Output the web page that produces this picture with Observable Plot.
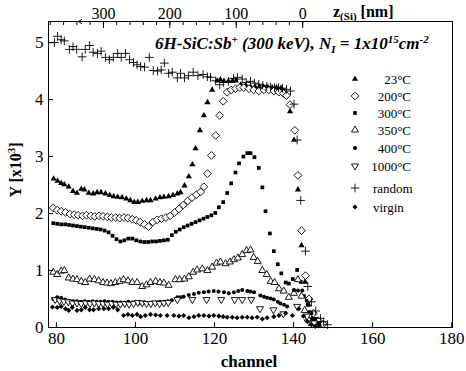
<!DOCTYPE html>
<html><head><meta charset="utf-8">
<script src="https://cdn.jsdelivr.net/npm/d3@7"></script>
<script src="https://cdn.jsdelivr.net/npm/@observablehq/plot@0.6"></script>
<style>body{margin:0;background:#fff} svg{display:block}</style>
</head><body><div id="chart"></div>
<script>
// ---- data (channel, Y in units of 10^3) ----
const chRandom = [79.5,80.3,81.2,82.0,83.3,84.2,85.1,86.5,87.3,88.4,89.3,90.4,91.3,92.4,93.4,94.4,95.5,96.4,97.5,98.5,99.5,100.4,101.3,102.3,103.5,104.5,105.6,106.5,107.3,108.4,109.3,110.6,111.4,112.4,113.4,114.6,115.8,117.1,118.2,119.0,120.3,121.3,122.3,123.5,124.8,125.8,127.0,128.0,129.1,130.1,131.2,132.2,133.2,134.2,135.2,136.2,137.2,138.2,139.2,140.1,140.9,141.8,143.0,143.6,144.5,145.6,146.8,147.6,148.6];
const yRandom = [5.00,5.11,5.05,5.03,4.88,4.93,4.88,4.75,4.88,4.95,4.83,4.81,4.85,4.74,4.70,4.74,4.81,4.74,4.81,4.70,4.65,4.61,4.58,4.57,4.74,4.51,4.50,4.52,4.64,4.46,4.48,4.38,4.46,4.38,4.42,4.48,4.42,4.44,4.40,4.39,4.33,4.26,4.30,4.32,4.37,4.39,4.36,4.30,4.32,4.29,4.27,4.25,4.23,4.22,4.21,4.21,4.20,4.18,4.15,3.92,3.29,2.23,1.34,0.72,0.45,0.29,0.16,0.10,0.05];

const ch23 = [79.3,80.3,81.2,82.0,83.1,84.2,85.2,86.3,87.1,88.2,89.3,90.3,91.3,92.4,93.5,94.5,95.5,96.6,97.7,98.7,99.7,100.6,101.7,102.8,103.8,105.1,106.2,107.2,108.4,109.5,110.6,111.4,112.4,113.5,114.4,115.2,116.3,117.3,118.2,119.4,120.7,121.5,122.4,123.5,124.5,125.4,126.6,127.9,129.1,130.2,131.3,132.4,133.5,134.6,135.7,136.8,137.5,139.1,140.1,141.1,142.0,142.9,143.8,144.8,145.8];
const y23 = [2.61,2.57,2.53,2.51,2.47,2.39,2.36,2.43,2.42,2.36,2.35,2.37,2.37,2.35,2.32,2.30,2.29,2.28,2.26,2.23,2.20,2.20,2.22,2.23,2.23,2.26,2.28,2.29,2.30,2.32,2.35,2.37,2.49,2.65,2.86,3.14,3.46,3.72,3.95,4.17,4.33,4.35,4.32,4.32,4.32,4.33,4.26,4.25,4.23,4.23,4.22,4.22,4.22,4.21,4.21,4.20,4.15,3.79,3.29,2.42,1.44,0.80,0.40,0.18,0.08];

const ch200 = [79.2,80.2,81.2,82.3,83.4,84.5,85.5,86.6,87.6,88.7,89.7,90.8,91.8,92.9,93.9,95.0,96.0,97.1,98.1,99.2,100.2,101.2,102.3,103.3,104.4,105.5,106.6,107.7,108.8,109.9,111.0,112.1,113.2,114.3,115.4,116.5,117.3,118.2,119.2,120.3,121.3,122.2,123.2,124.2,125.3,126.4,127.4,128.7,129.9,131.2,132.5,133.7,135.0,136.3,137.4,138.2,139.1,140.3,141.1,142.0,143.0,143.9,145.0,146.2,147.5];
const y200 = [2.10,2.06,2.04,2.02,1.99,1.98,1.97,1.96,1.97,1.96,1.95,1.96,1.95,1.94,1.93,1.93,1.92,1.93,1.92,1.90,1.88,1.85,1.81,1.77,1.85,1.89,1.91,1.93,1.96,2.02,2.08,2.15,2.22,2.28,2.33,2.38,2.47,2.70,3.02,3.37,3.72,3.97,4.13,4.17,4.19,4.21,4.21,4.19,4.17,4.15,4.17,4.17,4.15,4.13,4.11,4.07,3.91,3.46,2.67,1.70,0.91,0.50,0.25,0.12,0.06];

const ch300 = [79.2,80.2,81.2,82.2,83.2,84.2,85.2,86.2,87.2,88.2,89.2,90.2,91.2,92.2,93.2,94.2,95.2,96.2,97.2,98.2,99.2,100.2,101.2,102.2,103.2,104.2,105.2,106.2,107.2,108.2,109.2,110.2,111.2,112.2,113.2,114.2,115.2,116.2,117.2,118.2,119.2,120.2,121.1,122.2,123.2,124.2,125.3,126.2,127.3,128.3,129.1,130.1,131.2,132.1,132.9,134.0,135.0,136.0,136.9,138.0,138.8,139.8,140.9,141.8,142.6,143.6,144.5,145.5,146.5];
const y300 = [1.83,1.82,1.81,1.81,1.80,1.79,1.78,1.77,1.76,1.75,1.74,1.73,1.72,1.70,1.67,1.61,1.55,1.51,1.53,1.56,1.56,1.53,1.51,1.50,1.50,1.51,1.51,1.52,1.53,1.54,1.62,1.68,1.72,1.76,1.79,1.82,1.85,1.88,1.91,1.94,1.97,2.01,2.11,2.20,2.36,2.53,2.72,2.88,3.00,3.06,3.06,2.99,2.80,2.46,2.04,1.65,1.34,1.11,0.95,0.79,0.77,0.85,1.01,0.80,0.55,0.40,0.25,0.15,0.08];

const ch350 = [79.2,80.2,81.2,82.0,83.1,84.2,85.2,86.3,87.3,88.4,89.6,90.7,91.8,92.8,93.8,94.9,96.0,97.0,98.1,99.2,100.4,101.7,102.8,103.8,105.1,106.2,107.2,108.4,110.1,111.2,112.4,113.5,114.6,115.6,116.9,118.2,119.4,120.5,121.5,122.8,123.9,124.9,125.9,127.0,128.1,129.1,129.9,130.9,132.1,133.2,134.2,135.2,136.3,137.5,138.8,140.1,141.1,142.0,142.8,143.6,144.6];
const y350 = [0.97,0.93,0.99,1.00,0.87,0.85,0.84,0.81,0.79,0.85,0.84,0.82,0.79,0.78,0.77,0.79,0.81,0.84,0.82,0.79,0.79,0.72,0.75,0.79,0.81,0.79,0.78,0.74,0.84,0.84,0.85,0.89,0.97,1.01,1.03,1.00,1.06,1.13,1.15,1.12,1.15,1.19,1.22,1.28,1.35,1.36,1.23,1.16,1.00,0.93,0.81,0.79,0.68,0.64,0.53,0.60,0.84,0.55,0.30,0.15,0.07];

const ch400 = [79.2,80.2,81.2,82.2,83.2,84.2,85.2,86.2,87.2,88.2,89.2,90.2,91.2,92.2,93.2,94.2,95.2,96.2,97.2,98.2,99.2,100.2,101.2,102.2,103.2,104.2,105.2,106.2,107.2,108.2,109.2,110.6,111.4,112.2,113.5,114.8,116.0,117.3,118.5,119.8,121.0,122.4,123.6,124.9,126.0,127.0,128.3,129.1,130.0,131.6,132.5,133.3,134.2,135.0,136.0,136.7,137.6,138.4,140.1,141.1,142.2,143.3,144.0,144.8,145.6,146.5];
const y400 = [0.50,0.53,0.52,0.49,0.47,0.46,0.46,0.45,0.46,0.45,0.46,0.45,0.45,0.46,0.45,0.45,0.44,0.44,0.44,0.45,0.44,0.44,0.43,0.44,0.43,0.44,0.44,0.45,0.45,0.46,0.48,0.53,0.53,0.54,0.57,0.59,0.61,0.62,0.63,0.64,0.63,0.62,0.60,0.62,0.64,0.66,0.64,0.63,0.62,0.56,0.54,0.52,0.51,0.49,0.45,0.42,0.40,0.37,0.66,0.65,0.65,0.47,0.27,0.15,0.08,0.04];

const ch1000 = [79.7,80.8,81.9,83.0,84.1,85.2,86.3,87.4,88.5,89.6,90.7,91.8,92.9,94.0,95.1,96.2,97.3,98.4,99.5,100.6,101.7,102.8,103.9,105.0,106.1,107.2,108.3,110.6,114.4,118.0,121.7,125.1,127.0,129.3,131.5,134.9,137.4,140.9,143.4,145.2];
const y1000 = [0.49,0.47,0.46,0.45,0.43,0.43,0.42,0.43,0.42,0.43,0.42,0.42,0.41,0.42,0.41,0.41,0.42,0.41,0.42,0.44,0.43,0.42,0.42,0.43,0.42,0.43,0.44,0.49,0.49,0.49,0.49,0.49,0.49,0.49,0.33,0.31,0.24,0.37,0.20,0.08];

const chVirgin = [79.0,80.2,81.2,82.3,83.1,84.0,85.2,86.3,87.3,88.4,89.4,90.7,92.0,93.2,94.4,95.5,97.0,98.1,99.2,100.4,101.3,102.5,103.8,105.1,106.3,108.0,109.7,111.0,112.2,113.5,114.8,116.0,117.3,118.6,119.8,121.1,122.2,123.2,124.5,125.7,127.0,128.3,129.5,130.8,132.1,133.3,135.0,136.3,138.0,139.7,141.3,142.5,143.5,144.5,145.5];
const yVirgin = [0.36,0.35,0.37,0.33,0.30,0.35,0.30,0.31,0.35,0.31,0.31,0.33,0.33,0.33,0.35,0.31,0.21,0.23,0.21,0.23,0.19,0.21,0.23,0.22,0.21,0.21,0.21,0.20,0.21,0.17,0.19,0.21,0.21,0.20,0.21,0.20,0.19,0.18,0.18,0.17,0.18,0.18,0.17,0.18,0.15,0.17,0.19,0.21,0.25,0.21,0.33,0.20,0.10,0.05,0.02];

// tick labels
const xTicks = [80, 100, 120, 140, 160, 180];
const yTicks = [0, 1, 2, 3, 4, 5];
const zMajor = [0, 100, 200, 300];
const zMinor = d3.range(0, 381, 20);
const zArrow = [300, 338];
const legendLabels = ["23°C", "200°C", "300°C", "350°C", "400°C", "1000°C", "random", "virgin"];

// depth (nm) -> channel relation
const chSurface = 142.3, chPerNm = 0.168;
const zToCh = z => chSurface - chPerNm * z;
const chToZ = c => Math.round((chSurface - c) / chPerNm);

// series styles
const series = [
  {name: "23°C", ch: ch23, y: y23, symbol: "triangle", r: 2.3, fill: "black", stroke: "none"},
  {name: "200°C", ch: ch200, y: y200, symbol: "diamond2", r: 3.5, fill: "white", stroke: "black"},
  {name: "300°C", ch: ch300, y: y300, symbol: "square", r: 2.1, fill: "black", stroke: "none"},
  {name: "350°C", ch: ch350, y: y350, symbol: "triangle", r: 2.6, fill: "white", stroke: "black"},
  {name: "400°C", ch: ch400, y: y400, symbol: "circle", r: 2.0, fill: "black", stroke: "none"},
  {name: "1000°C", ch: ch1000, y: y1000, symbol: "triangle", r: 2.6, fill: "white", stroke: "black", rotate: 180},
  {name: "random", ch: chRandom, y: yRandom, symbol: "plus", r: 2.9, fill: "none", stroke: "black"},
  {name: "virgin", ch: chVirgin, y: yVirgin, symbol: "diamond2", r: 2.3, fill: "black", stroke: "none"}
];

const font = "'Liberation Serif', 'Times New Roman', serif";

const dotMarks = series.map(s => {
  const rows = s.ch.map((c, i) => ({c, v: s.y[i]})).filter(d => d.v != null);
  return Plot.dot(rows, {x: "c", y: "v", symbol: () => s.symbol, r: s.r, fill: s.fill, stroke: s.stroke, strokeWidth: 0.9, rotate: s.rotate || 0});
});

const chart = Plot.plot({
  width: 466, height: 371,
  marginLeft: 48, marginRight: 14, marginTop: 21, marginBottom: 44,
  style: {fontFamily: font, background: "white", color: "black"},
  x: {domain: [78, 180.2]},
  y: {domain: [0, 5.37]},
  symbol: {type: "identity"},
  marks: [
    ...dotMarks,
    Plot.frame({stroke: "black", strokeWidth: 1}),
    Plot.axisX({anchor: "bottom", ticks: xTicks, tickSize: -5, tickPadding: 9, fontSize: 17, label: null, tickFormat: d => d}),
    Plot.axisY({anchor: "left", ticks: yTicks, tickSize: -5, tickPadding: 10, fontSize: 17, label: null, tickFormat: d => d}),
    Plot.axisX({anchor: "top", ticks: zMinor.map(zToCh), tickSize: -3, tickFormat: () => "", label: null}),
    Plot.axisX({anchor: "top", ticks: zMajor.map(zToCh), tickSize: -6, tickPadding: 9, fontSize: 16, tickFormat: chToZ, label: null}),
    Plot.arrow([zArrow], {x1: d => zToCh(d[0]), x2: d => zToCh(d[1]), y1: () => 5.37, y2: () => 5.37, headLength: 6, stroke: "black", strokeWidth: 1})
  ]
});
document.getElementById("chart").append(chart);

// ---- text annotations ----
const svg = d3.select(chart);

// title
const t = svg.append("text").attr("x", 155).attr("y", 49).attr("text-anchor", "start")
  .attr("font-family", font).attr("font-size", 17).attr("font-weight", "bold").attr("font-style", "italic").attr("fill", "black");
t.append("tspan").text("6H-SiC:Sb");
t.append("tspan").attr("dy", -6).attr("font-size", 11).text("+");
t.append("tspan").attr("dy", 6).text(" (300 keV), N");
t.append("tspan").attr("dy", 4).attr("font-size", 11).text("I");
t.append("tspan").attr("dy", -4).text(" = 1x10");
t.append("tspan").attr("dy", -6).attr("font-size", 11).text("15");
t.append("tspan").attr("dy", 6).text("cm");
t.append("tspan").attr("dy", -6).attr("font-size", 11).text("-2");

// top axis label
const z = svg.append("text").attr("x", 333).attr("y", 17).attr("text-anchor", "start")
  .attr("font-family", font).attr("font-size", 16).attr("font-weight", "bold").attr("fill", "black");
z.append("tspan").text("z");
z.append("tspan").attr("dy", 3).attr("font-size", 11).text("(Si)");
z.append("tspan").attr("dy", -3).text(" [nm]");

// x label
svg.append("text").attr("x", 249).attr("y", 367).attr("text-anchor", "middle")
  .attr("font-family", font).attr("font-size", 17).attr("font-weight", "bold").attr("fill", "black").text("channel");

// y label
const yl = svg.append("text").attr("transform", "translate(21,170) rotate(-90)").attr("text-anchor", "middle")
  .attr("font-family", font).attr("font-size", 16).attr("font-weight", "bold").attr("fill", "black");
yl.append("tspan").text("Y [x10");
yl.append("tspan").attr("dy", -6).attr("font-size", 11).text("3");
yl.append("tspan").attr("dy", 6).text("]");

// legend
const legendRows = [79, 96, 113, 130, 148, 166, 188, 207];
const symMap = {triangle: d3.symbolTriangle, diamond2: d3.symbolDiamond2, square: d3.symbolSquare, circle: d3.symbolCircle, plus: d3.symbolPlus};
const lg = svg.append("g");
series.forEach((s, i) => {
  const yy = legendRows[i];
  lg.append("path")
    .attr("d", d3.symbol(symMap[s.symbol], Math.PI * s.r * s.r)())
    .attr("transform", `translate(355,${yy})` + (s.rotate ? ` rotate(${s.rotate})` : ""))
    .attr("fill", s.fill).attr("stroke", s.stroke).attr("stroke-width", 0.9);
  const isTemp = i < 6;
  lg.append("text").attr("x", isTemp ? 411 : 373).attr("y", yy + 5)
    .attr("text-anchor", isTemp ? "end" : "start")
    .attr("font-family", font).attr("font-size", 13).attr("fill", "black").text(legendLabels[i]);
});
</script>
</body></html>
